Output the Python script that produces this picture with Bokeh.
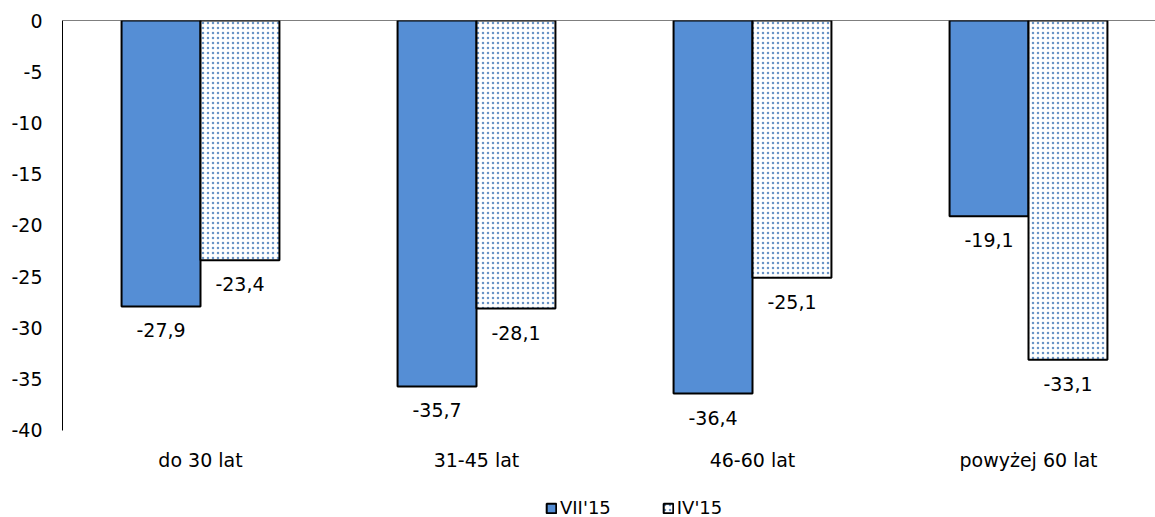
from bokeh.plotting import figure
from bokeh.models import (Range1d, FixedTicker, ColumnDataSource, Span, Legend,
                          LegendItem, LinearAxis)
from bokeh.core.properties import value
from bokeh.embed import file_html
from bokeh.resources import INLINE

# Data
categories = ["do 30 lat", "31-45 lat", "46-60 lat", "powyżej 60 lat"]
series_names = ["VII'15", "IV'15"]
vii_15 = [-27.9, -35.7, -36.4, -19.1]
iv_15 = [-23.4, -28.1, -25.1, -33.1]
y_ticks = [0, -5, -10, -15, -20, -25, -30, -35, -40]

FONT = "DejaVu Sans"
BLUE = "#558ED5"
BAR_W = 0.286
Y_MIN = -40

centers = [i + 0.5 for i in range(len(categories))]

def fmt(v):
    return ("%.1f" % v).replace(".", ",")

src_a = ColumnDataSource(dict(x=[c - BAR_W / 2 for c in centers], top=vii_15,
                              lab=[fmt(v) for v in vii_15]))
src_b = ColumnDataSource(dict(x=[c + BAR_W / 2 for c in centers], top=iv_15,
                              lab=[fmt(v) for v in iv_15]))
src_cat = ColumnDataSource(dict(x=centers, y=[Y_MIN] * len(centers), name=categories))

# the frame runs to the bottom edge; the value axis stops at -40 and the
# space below holds the category names and the legend
p = figure(width=1155, height=517, output_backend="svg", toolbar_location=None,
           x_range=Range1d(0, 1093 / 276), y_range=Range1d(-48.49, 0),
           x_axis_location=None, y_axis_location=None,
           min_border_left=62, min_border_right=0, min_border_top=20,
           min_border_bottom=0)
p.outline_line_color = None
p.xgrid.visible = False
p.ygrid.visible = False
p.background_fill_color = "white"
p.border_fill_color = "white"

r_a = p.vbar(x="x", top="top", bottom=0, width=BAR_W, source=src_a,
             fill_color=BLUE, line_color="black", line_width=2)
r_b = p.vbar(x="x", top="top", bottom=0, width=BAR_W, source=src_b,
             fill_color="white", line_color="black", line_width=2,
             hatch_pattern="dot", hatch_color="#4F81BD", hatch_alpha=0.85,
             hatch_scale=5, hatch_weight=1.5)

# zero line along the top
p.add_layout(Span(location=0, dimension="width", line_color="black", line_width=1.2))

# value labels under each bar end
for src in (src_a, src_b):
    p.text(x="x", y="top", text="lab", source=src, text_align="center",
           text_baseline="middle", y_offset=24, text_font=value(FONT),
           text_font_size="19px", text_color="black")

# category names under the value axis' lower end
p.text(x="x", y="y", text="name", source=src_cat, text_align="center",
       text_baseline="middle", y_offset=30, text_font=value(FONT),
       text_font_size="19px", text_color="black")

# y axis, plain hyphen for negatives
yax = LinearAxis(ticker=FixedTicker(ticks=y_ticks), bounds=(Y_MIN, 0),
                 major_label_overrides={t: str(t) for t in y_ticks})
yax.major_tick_line_color = None
yax.minor_tick_line_color = None
yax.major_tick_out = 0
yax.minor_tick_out = 0
yax.axis_line_color = "black"
yax.axis_line_width = 1
yax.major_label_standoff = 20
yax.major_label_text_font = FONT
yax.major_label_text_font_size = "19px"
yax.major_label_text_color = "black"
p.add_layout(yax, "left")

legend = Legend(items=[LegendItem(label=series_names[0], renderers=[r_a]),
                       LegendItem(label=series_names[1], renderers=[r_b])],
                orientation="horizontal", location=(483, -1),
                glyph_width=12, glyph_height=12, label_standoff=3, spacing=51,
                padding=0, margin=0, border_line_color=None,
                background_fill_alpha=0, label_text_font=FONT,
                label_text_font_size="18px", label_text_color="black",
                label_height=18)
p.add_layout(legend, "center")

open("out.html", "w").write(file_html(p, INLINE))
